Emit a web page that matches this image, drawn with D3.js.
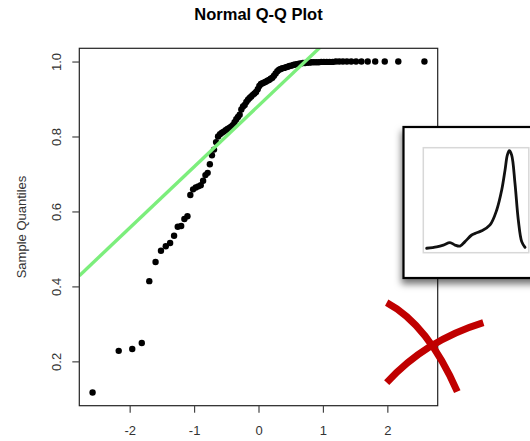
<!DOCTYPE html>
<html>
<head>
<meta charset="utf-8">
<script src="https://cdn.jsdelivr.net/npm/d3@7"></script>
<style>
  html, body { margin: 0; padding: 0; background: #fff; }
  svg { display: block; font-family: "Liberation Sans", Arial, sans-serif; }
</style>
</head>
<body>
<svg id="chart" width="530" height="441"></svg>
<script>
// ---- data ----
const theoretical = [
  -2.5758, -2.1701, -1.9600, -1.8119, -1.6954, -1.5982, -1.5141, -1.4395, -1.3722, -1.3106,
  -1.2536, -1.2004, -1.1503, -1.1031, -1.0581, -1.0152, -0.9741, -0.9346, -0.8965, -0.8596,
  -0.8239, -0.7892, -0.7554, -0.7225, -0.6903, -0.6588, -0.6280, -0.5978, -0.5681, -0.5388,
  -0.5101, -0.4817, -0.4538, -0.4261, -0.3989, -0.3719, -0.3451, -0.3186, -0.2924, -0.2663,
  -0.2404, -0.2147, -0.1891, -0.1637, -0.1383, -0.1130, -0.0878, -0.0627, -0.0376, -0.0125,
   0.0125,  0.0376,  0.0627,  0.0878,  0.1130,  0.1383,  0.1637,  0.1891,  0.2147,  0.2404,
   0.2663,  0.2924,  0.3186,  0.3451,  0.3719,  0.3989,  0.4261,  0.4538,  0.4817,  0.5101,
   0.5388,  0.5681,  0.5978,  0.6280,  0.6588,  0.6903,  0.7225,  0.7554,  0.7892,  0.8239,
   0.8596,  0.8965,  0.9346,  0.9741,  1.0152,  1.0581,  1.1031,  1.1503,  1.2004,  1.2536,
   1.3106,  1.3722,  1.4395,  1.5141,  1.5982,  1.6954,  1.8119,  1.9600,  2.1701,  2.5758
];
const sample = [
  0.117, 0.228, 0.233, 0.249, 0.414, 0.465, 0.495, 0.507, 0.516, 0.535,
  0.559, 0.561, 0.580, 0.587, 0.644, 0.659, 0.664, 0.667, 0.670, 0.682,
  0.697, 0.703, 0.726, 0.750, 0.765, 0.785, 0.800, 0.806, 0.810, 0.813,
  0.817, 0.820, 0.823, 0.826, 0.830, 0.838, 0.846, 0.852, 0.858, 0.872,
  0.880, 0.884, 0.892, 0.898, 0.903, 0.907, 0.911, 0.915, 0.919, 0.926,
  0.935, 0.940, 0.942, 0.944, 0.946, 0.949, 0.951, 0.954, 0.957, 0.962,
  0.968, 0.974, 0.978, 0.980, 0.982, 0.983, 0.985, 0.986, 0.988, 0.989,
  0.991, 0.992, 0.993, 0.994, 0.995, 0.996, 0.996, 0.997, 0.997, 0.998,
  0.998, 0.998, 0.998, 0.999, 0.999, 0.999, 0.999, 0.999, 1.000, 1.000,
  1.000, 1.000, 1.000, 1.000, 1.000, 1.000, 1.000, 1.000, 1.000, 1.000
];
const qqLine = { intercept: 0.882, slope: 0.163 };
const xTicks = [-2, -1, 0, 1, 2];
const xTickLabels = ["-2", "-1", "0", "1", "2"];
const yTicks = [0.2, 0.4, 0.6, 0.8, 1.0];
const yTickLabels = ["0.2", "0.4", "0.6", "0.8", "1.0"];
const title = "Normal Q-Q Plot";
const yTitle = "Sample Quantiles";

// inset density thumbnail
const densX = [-0.065, 0.062, 0.146, 0.23, 0.294, 0.357, 0.42, 0.505, 0.568, 0.632, 0.737,
               0.822, 0.885, 0.927, 0.956, 0.981, 1.011, 1.053, 1.095, 1.138, 1.18];
const densY = [0.03, 0.09, 0.16, 0.26, 0.16, 0.12, 0.30, 0.57, 0.66, 0.74, 0.98,
               1.59, 2.40, 3.21, 3.82, 4.00, 3.82, 2.67, 1.18, 0.30, 0.07];

// red cross annotation (quadratic arcs in plot data coords: start, control, end)
const crossX = [[1.990, 2.632, 3.086], [1.990, 2.585, 3.490]];
const crossY = [[0.3565, 0.2975, 0.119], [0.1431, 0.2551, 0.3032]];

// ---- layout ----
const svg = d3.select("#chart");
const plot = { left: 79.3, right: 437.7, top: 48.3, bottom: 405.7 };
const FS = 13;

function padded(ext) {
  const r = ext[1] - ext[0];
  return [ext[0] - 0.04 * r, ext[1] + 0.04 * r];
}
const x = d3.scaleLinear().domain(padded(d3.extent(theoretical))).range([plot.left, plot.right]);
const y = d3.scaleLinear().domain(padded(d3.extent(sample))).range([plot.bottom, plot.top]);

const defs = svg.append("defs");
defs.append("clipPath").attr("id", "plotClip")
  .append("rect").attr("x", plot.left).attr("y", plot.top)
  .attr("width", plot.right - plot.left).attr("height", plot.bottom - plot.top);
const f = defs.append("filter").attr("id", "shadow")
  .attr("x", "-20%").attr("y", "-20%").attr("width", "140%").attr("height", "150%");
f.append("feDropShadow").attr("dx", -1).attr("dy", 5).attr("stdDeviation", 3.5)
  .attr("flood-color", "#000").attr("flood-opacity", 0.55);

// title
svg.append("text").attr("x", (plot.left + plot.right) / 2).attr("y", 20)
  .attr("text-anchor", "middle").attr("font-size", 16.5).attr("font-weight", "bold")
  .attr("fill", "#000").text(title);

// y axis title
svg.append("text").attr("transform", `translate(25.5,${(plot.top + plot.bottom) / 2}) rotate(-90)`)
  .attr("text-anchor", "middle").attr("font-size", FS).attr("fill", "#333").text(yTitle);

// points
svg.append("g").selectAll("circle").data(sample).join("circle")
  .attr("cx", (d, i) => x(theoretical[i])).attr("cy", d => y(d))
  .attr("r", 3.2).attr("fill", "#000");

// qq line
const xd = x.domain();
svg.append("line").attr("clip-path", "url(#plotClip)")
  .attr("x1", x(xd[0])).attr("y1", y(qqLine.intercept + qqLine.slope * xd[0]))
  .attr("x2", x(xd[1])).attr("y2", y(qqLine.intercept + qqLine.slope * xd[1]))
  .attr("stroke", "#7cee7c").attr("stroke-width", 3.4);

// box
svg.append("rect").attr("x", plot.left).attr("y", plot.top)
  .attr("width", plot.right - plot.left).attr("height", plot.bottom - plot.top)
  .attr("fill", "none").attr("stroke", "#222").attr("stroke-width", 1.2);

// x axis
const xAxis = svg.append("g").attr("transform", `translate(0,${plot.bottom})`)
  .call(d3.axisBottom(x).tickValues(xTicks).tickSize(7).tickPadding(13)
    .tickFormat((d, i) => xTickLabels[i]));
xAxis.select(".domain").remove();
xAxis.selectAll("line").attr("stroke", "#444").attr("stroke-width", 1.2);
xAxis.selectAll("text").attr("font-size", FS).attr("fill", "#333")
  .attr("font-family", "Liberation Sans, Arial, sans-serif");

// y axis
const yAxis = svg.append("g").attr("transform", `translate(${plot.left},0)`)
  .call(d3.axisLeft(y).tickValues(yTicks).tickSize(7).tickFormat((d, i) => yTickLabels[i]));
yAxis.select(".domain").remove();
yAxis.selectAll("line").attr("stroke", "#444").attr("stroke-width", 1.2);
yAxis.selectAll("text").remove();
yAxis.selectAll(".tick").append("text")
  .attr("transform", "translate(-18.5,0) rotate(-90)")
  .attr("text-anchor", "middle").attr("font-size", FS).attr("fill", "#333")
  .attr("font-family", "Liberation Sans, Arial, sans-serif")
  .text((d, i) => yTickLabels[i]);

// inset
const inset = svg.append("g");
inset.append("rect").attr("x", 403.5).attr("y", 127).attr("width", 140).attr("height", 151)
  .attr("fill", "#fff").attr("stroke", "#000").attr("stroke-width", 2.2)
  .attr("filter", "url(#shadow)");
inset.append("rect").attr("x", 423.3).attr("y", 147.7).attr("width", 105.5).attr("height", 105)
  .attr("fill", "#fff").attr("stroke", "#d8d8d8").attr("stroke-width", 1.5);
const ix = d3.scaleLinear().domain([0, 1]).range([431.8, 510.8]);
const iy = d3.scaleLinear().domain([0, 4]).range([249, 150.7]);
inset.append("path")
  .attr("d", d3.line().x((d, i) => ix(densX[i])).y(d => iy(d)).curve(d3.curveCatmullRom)(densY))
  .attr("fill", "none").attr("stroke", "#111").attr("stroke-width", 2.8)
  .attr("stroke-linejoin", "round").attr("stroke-linecap", "round");

// red cross
svg.append("g").selectAll("path").data(crossX).join("path")
  .attr("d", (d, k) => `M${x(d[0])},${y(crossY[k][0])} Q${x(d[1])},${y(crossY[k][1])} ${x(d[2])},${y(crossY[k][2])}`)
  .attr("fill", "none").attr("stroke", "#c00000").attr("stroke-width", 7).attr("stroke-linecap", "butt");
</script>
</body>
</html>
